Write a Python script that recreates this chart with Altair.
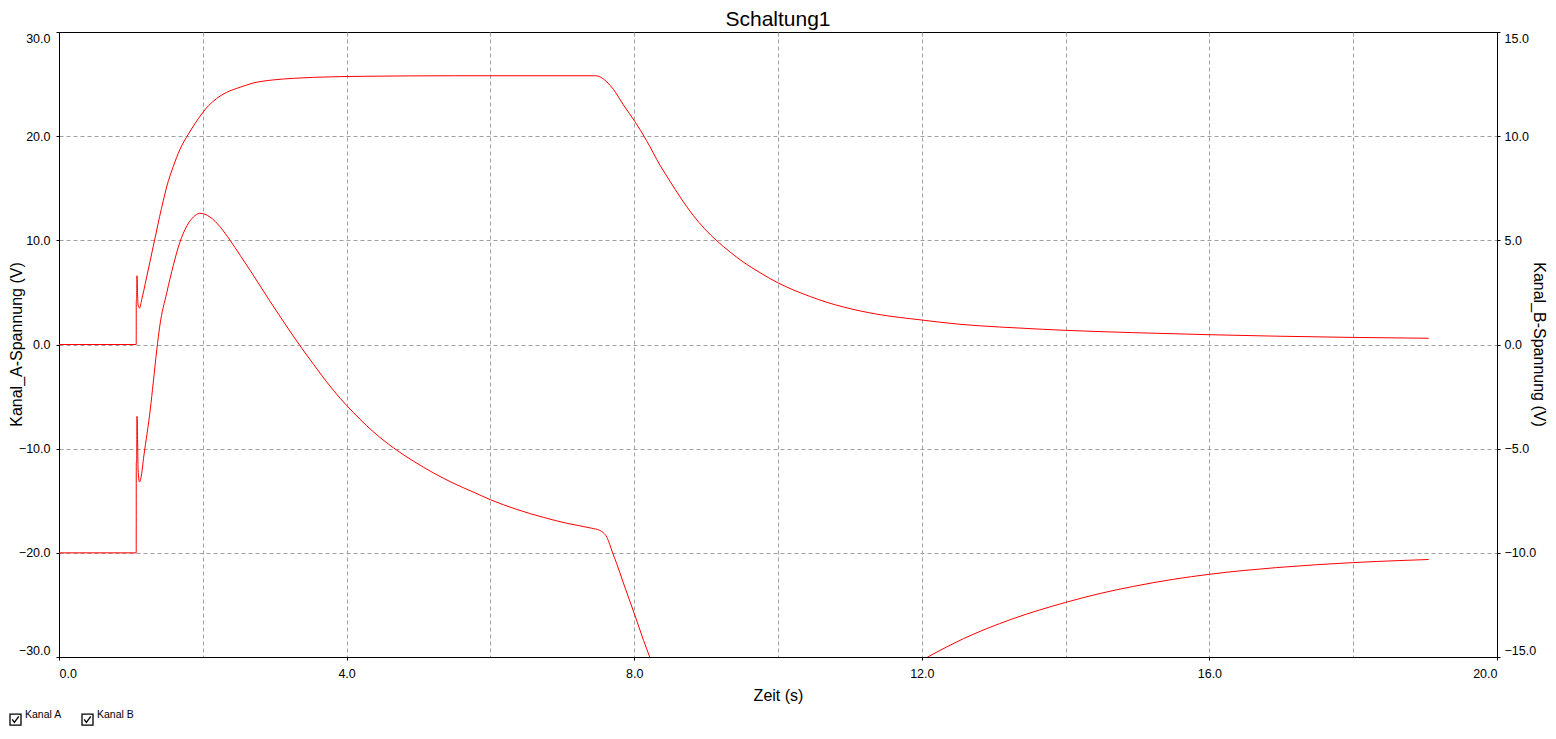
import altair as alt
import pandas as pd

# ---- data ----
# Kanal A: upper curve, left axis (V)
t_a = [0, 1.074, 1.0745, 1.080, 1.085, 1.092, 1.100, 1.120,
       1.150, 1.180, 1.220, 1.270, 1.310, 1.360, 1.400, 1.450, 1.500,
       1.590, 1.680, 1.800, 1.940, 2.050, 2.190, 2.330, 2.520, 2.700, 2.980,
       3.260, 3.540, 4.280, 5.500, 7.460, 7.550, 7.620, 7.710, 7.850, 8.010,
       8.170, 8.360, 8.500, 8.640, 8.820, 8.980, 9.150, 9.330, 9.520, 9.750,
       9.990, 10.21, 10.45, 10.68, 10.91, 11.37, 12.00, 12.53, 13.08, 13.68,
       14.00, 14.93, 16.00, 16.93, 17.99, 19.05]
kanal_a = [0, 0, 4.2, 4.2, 6.6, 5.0, 3.8, 3.5,
           4.3, 5.2, 6.5, 8.1, 9.4, 11.0, 12.3, 13.8, 15.2,
           17.1, 18.7, 20.2, 21.7, 22.7, 23.6, 24.2, 24.7, 25.1, 25.4,
           25.55, 25.65, 25.75, 25.8, 25.8, 25.6, 25.2, 24.5, 23.0, 21.4,
           19.6, 17.2, 15.65, 14.15, 12.4, 11.1, 9.95, 8.9, 7.9, 6.9,
           5.95, 5.25, 4.6, 4.05, 3.6, 2.92, 2.35, 1.94, 1.68, 1.46,
           1.36, 1.14, 0.94, 0.80, 0.68, 0.60]

# Kanal B: lower curve, right axis (V)
t_b = [0, 1.074, 1.0745, 1.080, 1.085, 1.093, 1.100, 1.120, 1.140, 1.180,
       1.270, 1.310, 1.360, 1.400, 1.500, 1.590, 1.680, 1.780, 1.870,
       1.960, 2.100, 2.240, 2.380, 2.520, 2.660, 2.800, 2.930, 3.070, 3.210,
       3.350, 3.540, 3.720, 3.910, 4.090, 4.280, 4.460, 4.700, 4.930, 5.210,
       5.480, 5.760, 6.000, 6.370, 6.740, 7.060, 7.410, 7.520, 7.570, 7.620,
       7.660, 7.700, 7.760, 7.840, 8.010, 8.130, 8.210, 8.400, 8.700, 9.200,
       9.800, 10.50, 11.20, 11.80, 12.11, 12.34, 12.58, 12.81, 13.08, 13.27,
       14.00, 14.48, 14.93, 15.50, 16.00, 16.47, 16.93, 17.49, 17.99, 18.65,
       19.05]
kanal_b = [-10.0, -10.0, -5.68, -5.68, -3.45, -4.55, -6.0, -6.6, -6.4, -5.35,
           -3.1, -1.85, -0.25, 0.85, 2.5, 3.8, 4.9, 5.7, 6.12,
           6.3, 6.12, 5.65, 5.0, 4.28, 3.55, 2.8, 2.1, 1.37, 0.65,
           -0.05, -0.95, -1.78, -2.58, -3.25, -3.9, -4.45, -5.08, -5.6, -6.17,
           -6.65, -7.08, -7.45, -7.92, -8.3, -8.58, -8.82, -8.92, -9.03, -9.25,
           -9.6, -10.0, -10.55, -11.35, -13.0, -14.2, -14.95, -16.75, -18.75, -20.5,
           -21.25, -20.5, -18.25, -15.65, -14.95, -14.53, -14.12, -13.77, -13.4, -13.16,
           -12.38, -11.95, -11.62, -11.27, -11.03, -10.85, -10.71, -10.57, -10.47, -10.37,
           -10.32]

series_names = ["Kanal A", "Kanal B"]
underline_names = ["Kanal A Linie", "Kanal B Linie"]
x_ticks = [0, 2, 4, 6, 8, 10, 12, 14, 16, 18, 20]
ya_ticks = [-30, -20, -10, 0, 10, 20, 30]
yb_ticks = [-15, -10, -5, 0, 5, 10, 15]

dfA = pd.DataFrame({"t": t_a, "v": kanal_a, "i": range(len(t_a)),
                    "Kanal": series_names[0], "Linie": underline_names[0]})
dfB = pd.DataFrame({"t": t_b, "v": kanal_b, "i": range(len(t_b)),
                    "Kanal": series_names[1], "Linie": underline_names[1]})

FONT = "Liberation Sans"
RED = "#ff0000"
CHECKBOX = "M-1,-1L1,-1L1,1L-1,1Z M-0.6,-0.05L-0.2,0.5L0.6,-0.6"
UNDERLINE = "M-1,0L1,0"

x_enc = alt.X(
    "t:Q",
    scale=alt.Scale(domain=[0, 20], nice=False, zero=False),
    axis=alt.Axis(
        values=x_ticks,
        title="Zeit (s)",
        labelExpr="datum.value % 4 == 0 ? format(datum.value, '.1f') : ''",
        tickOpacity={"condition": {"test": "datum.value % 4 == 0", "value": 1}, "value": 0},
        gridOpacity={"condition": {"test": "datum.value == 0 || datum.value == 20", "value": 0}, "value": 1},
        labelFlush=True,
        labelPadding=7,
        titlePadding=8,
        grid=True,
    ),
)

# red underline below each legend label (line colour of each channel)
color_enc = alt.Color(
    "Linie:N",
    scale=alt.Scale(domain=underline_names, range=[RED, RED]),
    legend=alt.Legend(
        title=None,
        orient="none",
        legendX=-35,
        legendY=686,
        direction="horizontal",
        symbolType=UNDERLINE,
        symbolSize=1849,
        symbolStrokeWidth=1.2,
        symbolStrokeColor=RED,
        symbolOpacity=1,
        labelExpr="''",
        labelFontSize=8,
        labelOffset=0,
        columnPadding=30,
        padding=0,
    ),
)

line_a = alt.Chart(dfA).mark_line(strokeWidth=1, clip=True, interpolate="monotone").encode(
    x=x_enc,
    y=alt.Y(
        "v:Q",
        scale=alt.Scale(domain=[-30, 30], nice=False, zero=False),
        axis=alt.Axis(
            orient="left",
            values=ya_ticks,
            format=".1f",
            title="Kanal_A-Spannung (V)",
            labelFlush=True,
            labelPadding=6,
            titleAngle=270,
            titleBaseline="bottom",
            titleX=-35,
            titleY=312,
            grid=True,
            gridOpacity={"condition": {"test": "datum.value == -30 || datum.value == 30", "value": 0}, "value": 1},
        ),
    ),
    color=color_enc,
    order="i:Q",
)

line_b = alt.Chart(dfB).mark_line(strokeWidth=1, clip=True, interpolate="monotone").encode(
    x=x_enc,
    y=alt.Y(
        "v:Q",
        scale=alt.Scale(domain=[-15, 15], nice=False, zero=False),
        axis=alt.Axis(
            orient="right",
            values=yb_ticks,
            format=".1f",
            title="Kanal_B-Spannung (V)",
            labelFlush=True,
            labelPadding=4,
            titleAngle=90,
            titleBaseline="bottom",
            titleX=33,
            titleY=312,
            grid=False,
        ),
    ),
    color=color_enc,
    order="i:Q",
)

legend_pts = alt.Chart(dfA).mark_point(opacity=0, color="black", filled=False).encode(
    x=x_enc,
    y=alt.Y("v:Q", scale=alt.Scale(domain=[-30, 30], nice=False), axis=None),
    shape=alt.Shape(
        "Kanal:N",
        scale=alt.Scale(domain=series_names, range=[CHECKBOX, CHECKBOX]),
        legend=alt.Legend(
            title=None,
            orient="none",
            legendX=-50,
            legendY=681,
            direction="horizontal",
            symbolSize=121,
            symbolOpacity=1,
            symbolStrokeColor="black",
            symbolFillColor="white",
            symbolStrokeWidth=1.3,
            labelFont=FONT,
            labelFontSize=10.5,
            labelColor="black",
            labelOffset=3,
            labelBaseline="bottom",
            columnPadding=17,
            padding=0,
        ),
    ),
)

chart = (
    alt.layer(line_a, line_b, legend_pts)
    .resolve_scale(y="independent", shape="independent")
    .properties(
        width=1438,
        height=625,
        title=alt.TitleParams("Schaltung1", anchor="middle", offset=2),
        autosize=alt.AutoSizeParams(type="none"),
        padding={"left": 51, "top": 24, "right": 51, "bottom": 76},
    )
    .configure_view(stroke="black", strokeWidth=1)
    .configure_axis(
        domainColor="black",
        tickColor="black",
        labelColor="black",
        titleColor="black",
        gridColor="#a0a0a0",
        gridDash=[4, 3],
        gridWidth=1,
        labelFont=FONT,
        titleFont=FONT,
        labelFontSize=12.5,
        titleFontSize=16,
        titleFontWeight="normal",
        tickSize=3,
    )
    .configure_title(font=FONT, fontSize=21, fontWeight="normal", color="black")
)

chart.save("out.html", embed_options={"renderer": "svg", "actions": False})
